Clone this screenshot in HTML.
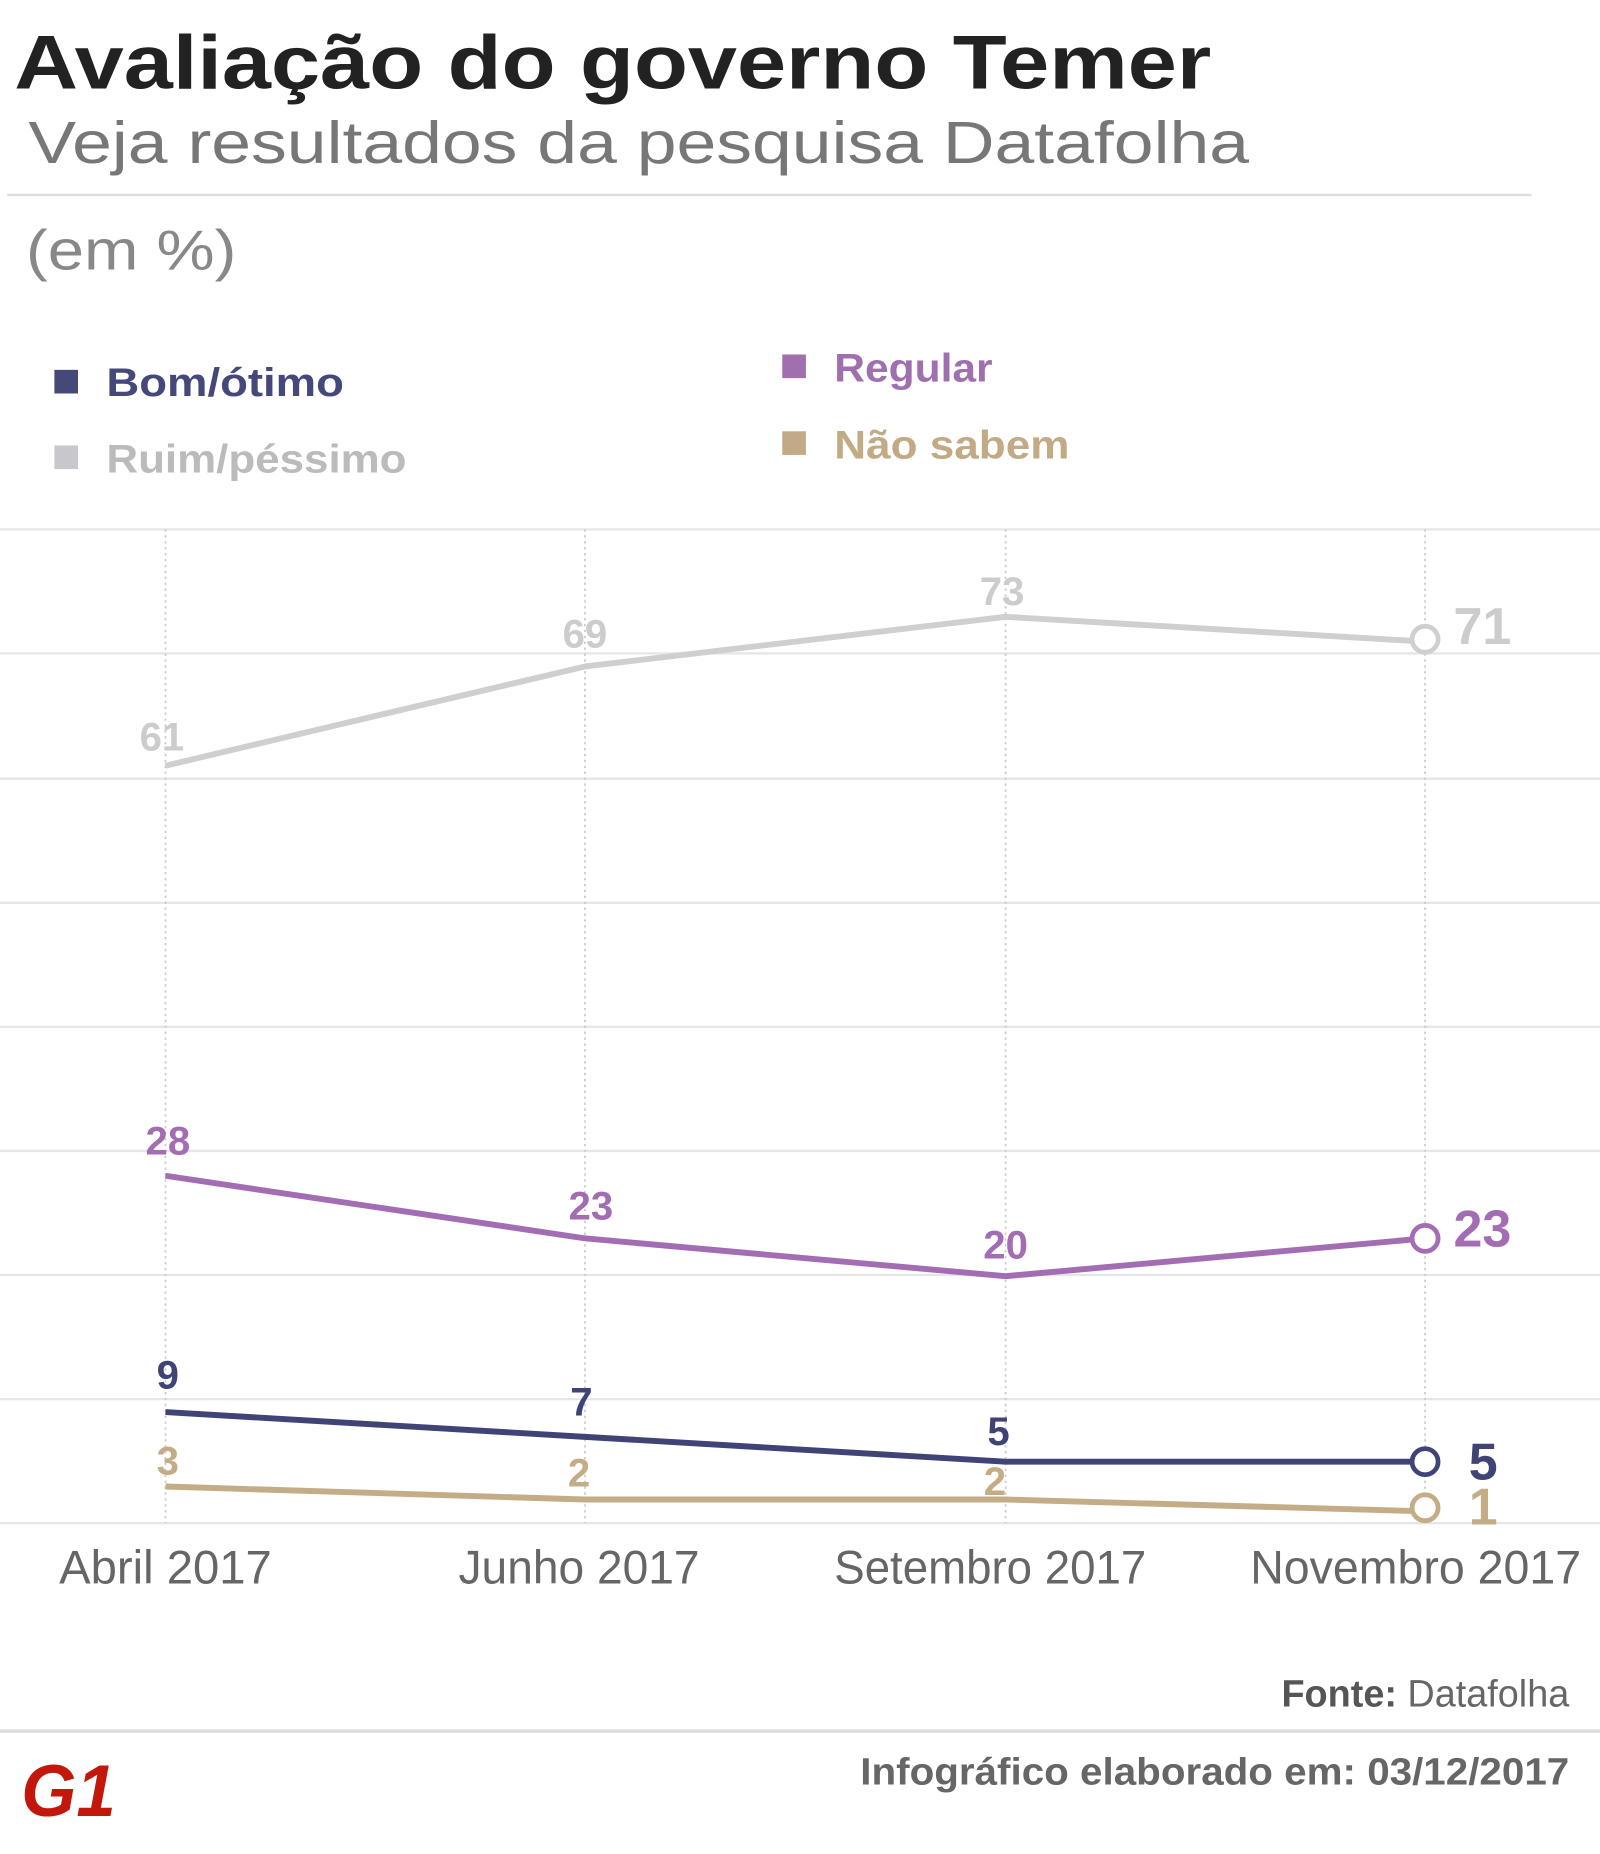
<!DOCTYPE html>
<html><head><meta charset="utf-8"><style>html,body{margin:0;padding:0;background:#fff}svg{display:block}</style></head>
<body>
<svg width="1600" height="1854" viewBox="0 0 1354 1569" xmlns="http://www.w3.org/2000/svg" font-family="Liberation Sans, sans-serif">
<rect width="1354" height="1569" fill="#fff"/>
<text x="12" y="75" font-size="64" font-weight="bold" fill="#222" textLength="1013" lengthAdjust="spacingAndGlyphs">Avaliação do governo Temer</text>
<text x="24" y="138" font-size="50" fill="#777" textLength="1033" lengthAdjust="spacingAndGlyphs">Veja resultados da pesquisa Datafolha</text>
<line x1="6" y1="165" x2="1296" y2="165" stroke="#ddd" stroke-width="2"/>
<text x="22" y="228" font-size="48" fill="#888" textLength="178" lengthAdjust="spacingAndGlyphs">(em %)</text>
<rect x="46" y="313" width="20" height="20" fill="#45497a"/>
<text x="90" y="335" font-size="34" font-weight="bold" fill="#45497a" textLength="201" lengthAdjust="spacingAndGlyphs">Bom/ótimo</text>
<rect x="46" y="377" width="20" height="20" fill="#c8c8cc"/>
<text x="90" y="400" font-size="34" font-weight="bold" fill="#bbb" textLength="254" lengthAdjust="spacingAndGlyphs">Ruim/péssimo</text>
<rect x="662" y="300" width="20" height="20" fill="#a06fb0"/>
<text x="706" y="323" font-size="34" font-weight="bold" fill="#a06fb0" textLength="134" lengthAdjust="spacingAndGlyphs">Regular</text>
<rect x="662" y="365" width="20" height="20" fill="#c2aa84"/>
<text x="706" y="388" font-size="34" font-weight="bold" fill="#c2aa84" textLength="199" lengthAdjust="spacingAndGlyphs">Não sabem</text>
<g stroke="#e6e6e6" stroke-width="2">
<line x1="0" y1="448" x2="1354" y2="448"/><line x1="0" y1="553" x2="1354" y2="553"/><line x1="0" y1="659" x2="1354" y2="659"/><line x1="0" y1="764" x2="1354" y2="764"/><line x1="0" y1="869" x2="1354" y2="869"/><line x1="0" y1="974" x2="1354" y2="974"/><line x1="0" y1="1079" x2="1354" y2="1079"/><line x1="0" y1="1184" x2="1354" y2="1184"/><line x1="0" y1="1289" x2="1354" y2="1289"/>
</g>
<g stroke="#ccc" stroke-width="1.5" stroke-dasharray="2,3">
<line x1="140" y1="448" x2="140" y2="1289"/><line x1="495" y1="448" x2="495" y2="1289"/><line x1="851" y1="448" x2="851" y2="1289"/><line x1="1206" y1="448" x2="1206" y2="1289"/>
</g>
<g fill="none" stroke-width="5" stroke-linejoin="round">
<polyline points="140,648 495,564 851,522 1206,543" stroke="#cfcfcf"/>
<polyline points="140,995 495,1048 851,1080 1206,1048" stroke="#a36db3"/>
<polyline points="140,1195 495,1216 851,1237 1206,1237" stroke="#3f4375"/>
<polyline points="140,1258 495,1269 851,1269 1206,1279" stroke="#c4ac86"/>
</g>
<g fill="#fff" stroke-width="4">
<circle cx="1206" cy="541" r="11" stroke="#cfcfcf"/>
<circle cx="1206" cy="1048" r="11" stroke="#a36db3"/>
<circle cx="1206" cy="1237" r="11" stroke="#3f4375"/>
<circle cx="1206" cy="1276" r="11" stroke="#c4ac86"/>
</g>
<g font-size="34" font-weight="bold" text-anchor="middle">
<text x="137" y="635" fill="#ccc">61</text><text x="495" y="548" fill="#ccc">69</text><text x="848" y="512" fill="#ccc">73</text>
<text x="142" y="977" fill="#a36db3">28</text><text x="500" y="1032" fill="#a36db3">23</text><text x="851" y="1065" fill="#a36db3">20</text>
<text x="142" y="1175" fill="#3f4375">9</text><text x="492" y="1198" fill="#3f4375">7</text><text x="845" y="1223" fill="#3f4375">5</text>
<text x="142" y="1248" fill="#c4ac86">3</text><text x="490" y="1258" fill="#c4ac86">2</text><text x="842" y="1265" fill="#c4ac86">2</text>
</g>
<g font-size="44" font-weight="bold">
<text x="1230" y="545" fill="#ccc">71</text>
<text x="1230" y="1055" fill="#a36db3">23</text>
<text x="1243" y="1252" fill="#3f4375">5</text>
<text x="1243" y="1290" fill="#c4ac86">1</text>
</g>
<g font-size="40" fill="#666">
<text x="50" y="1340" textLength="180" lengthAdjust="spacingAndGlyphs">Abril  2017</text>
<text x="388" y="1340" textLength="204" lengthAdjust="spacingAndGlyphs">Junho  2017</text>
<text x="706" y="1340" textLength="264" lengthAdjust="spacingAndGlyphs">Setembro 2017</text>
<text x="1058" y="1340" textLength="280" lengthAdjust="spacingAndGlyphs">Novembro 2017</text>
</g>
<text x="1328" y="1444" font-size="32" text-anchor="end" fill="#666"><tspan font-weight="bold" fill="#555">Fonte:</tspan> Datafolha</text>
<line x1="0" y1="1465" x2="1354" y2="1465" stroke="#ddd" stroke-width="3"/>
<text x="728" y="1510" font-size="32" font-weight="bold" fill="#666" textLength="600" lengthAdjust="spacingAndGlyphs">Infográfico elaborado em: 03/12/2017</text>
<text x="18" y="1537" font-size="62" font-weight="bold" font-style="italic" fill="#c4170c" textLength="80" lengthAdjust="spacingAndGlyphs">G1</text>
</svg>
</body></html>
